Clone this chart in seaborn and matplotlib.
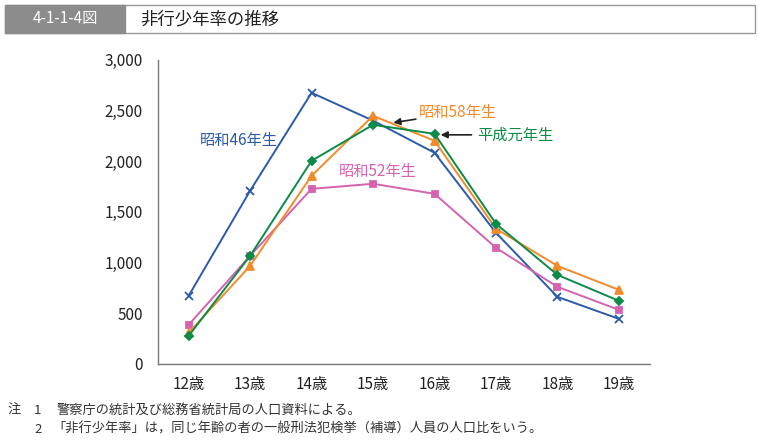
import pandas as pd
import seaborn as sns
import matplotlib.pyplot as plt
from matplotlib.patches import Rectangle

# data
ages = [12, 13, 14, 15, 16, 17, 18, 19]
age_labels = ['12歳', '13歳', '14歳', '15歳', '16歳', '17歳', '18歳', '19歳']
s46 = [671, 1708, 2675, 2400, 2083, 1293, 661, 444]
s52 = [385, 1066, 1727, 1777, 1678, 1145, 760, 533]
s58 = [306, 967, 1856, 2448, 2201, 1333, 967, 730]
h01 = [276, 1066, 2004, 2359, 2270, 1382, 878, 622]

sns.set_theme(style='white')
plt.rcParams['font.family'] = ['Noto Sans CJK JP', 'DejaVu Sans']

fig = plt.figure(figsize=(7.59, 4.40), dpi=100)
ax = fig.add_axes([0.208, 0.173, 0.648, 0.691])

series = [
    ('昭和46年生', s46, '#2b5ba8', 'x', 6),
    ('昭和52年生', s52, '#d563ae', 's', 4.5),
    ('昭和58年生', s58, '#f28b2c', '^', 5.5),
    ('平成元年生', h01, '#0b8b48', 'D', 4.5),
]
for name, vals, col, mk, ms in series:
    df = pd.DataFrame({'age': ages, 'rate': vals})
    sns.lineplot(data=df, x='age', y='rate', ax=ax, color=col, marker=mk,
                 markersize=ms, markeredgecolor=col, markeredgewidth=1.3,
                 linewidth=1.4, legend=False)

ax.set_xlim(11.5, 19.5)
ax.set_ylim(0, 3000)
ax.set_xticks(ages)
ax.set_xticklabels(age_labels)
ax.set_yticks(range(0, 3001, 500))
ax.set_yticklabels([f'{v:,}' for v in range(0, 3001, 500)])
ax.set_xlabel('')
ax.set_ylabel('')
for side in ['top', 'right']:
    ax.spines[side].set_visible(False)
for side in ['left', 'bottom']:
    ax.spines[side].set_color('#777777')
    ax.spines[side].set_linewidth(1.0)
ax.tick_params(axis='both', direction='out', length=3, width=0.8, color='#777777',
               labelsize=11, labelcolor='#222222')
ax.tick_params(axis='y', pad=8)
ax.tick_params(axis='x', pad=6)

# series labels
ax.text(13.45, 2200, '昭和46年生', color='#2b5ba8', fontsize=11, ha='right', va='center')
ax.text(14.45, 1900, '昭和52年生', color='#d563ae', fontsize=11, ha='left', va='center')
ax.annotate('昭和58年生', xy=(15.33, 2380), xytext=(15.75, 2480),
            color='#f28b2c', fontsize=11, va='center', ha='left',
            arrowprops=dict(arrowstyle='-|>', color='#222222', lw=1.2, mutation_scale=10,
                            shrinkA=0, shrinkB=0))
ax.annotate('平成元年生', xy=(16.1, 2260), xytext=(16.7, 2260),
            color='#0b8b48', fontsize=11, va='center', ha='left',
            arrowprops=dict(arrowstyle='-|>', color='#222222', lw=1.2, mutation_scale=10,
                            shrinkA=2, shrinkB=0))

# header
fig.patches.append(Rectangle((5 / 759, 1 - 33 / 440), 750 / 759, 28 / 440,
                             transform=fig.transFigure, facecolor='white',
                             edgecolor='#999999', linewidth=1.0))
fig.patches.append(Rectangle((5 / 759, 1 - 33 / 440), 120 / 759, 28 / 440,
                             transform=fig.transFigure, facecolor='#8c8c8c',
                             edgecolor='#8c8c8c', linewidth=1.0))
fig.text(65 / 759, 1 - 19 / 440, '4-1-1-4図', color='white', fontsize=11,
         ha='center', va='center')
fig.text(140 / 759, 1 - 19 / 440, '非行少年率の推移', color='#222222', fontsize=12.5,
         ha='left', va='center')

# notes
fig.text(8 / 759, 1 - 410 / 440, '注', fontsize=9.5, color='#333333', va='center')
fig.text(34 / 759, 1 - 410 / 440, '1', fontsize=9.5, color='#333333', va='center')
fig.text(57 / 759, 1 - 410 / 440, '警察庁の統計及び総務省統計局の人口資料による。',
         fontsize=9.5, color='#333333', va='center')
fig.text(34 / 759, 1 - 429 / 440, '2', fontsize=9.5, color='#333333', va='center')
fig.text(52 / 759, 1 - 429 / 440,
         '「非行少年率」は，同じ年齢の者の一般刑法犯検挙（補導）人員の人口比をいう。',
         fontsize=9.5, color='#333333', va='center')

fig.savefig('out.png', dpi=100)
